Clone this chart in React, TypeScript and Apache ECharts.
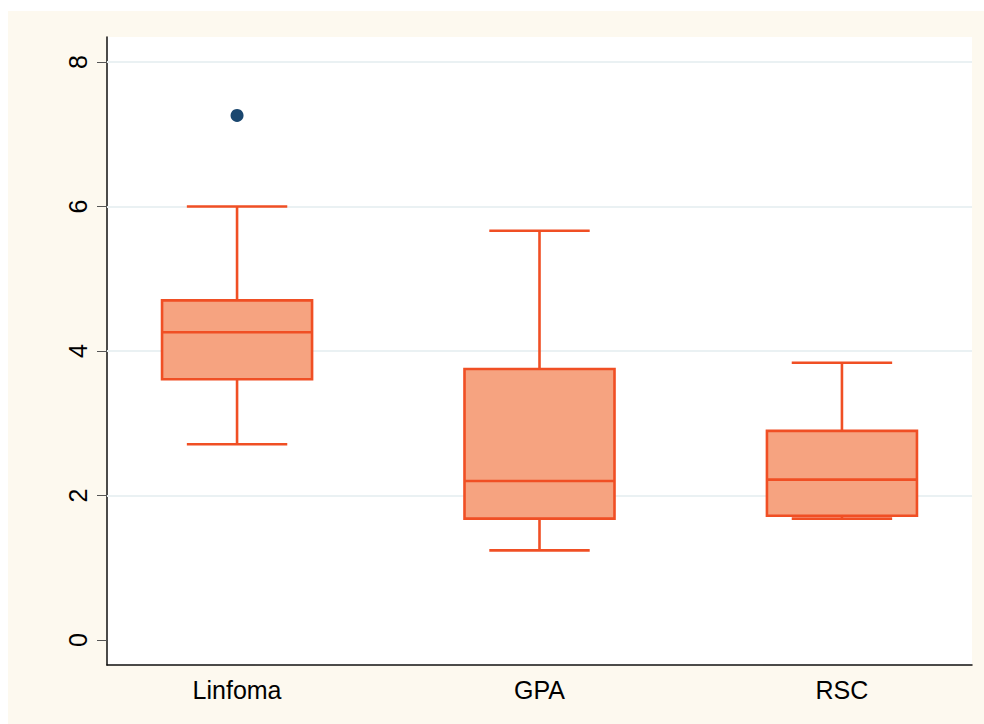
import React, { useEffect, useRef } from "react";
import * as echarts from "echarts";

// Groups along the x axis
const categories = ["Linfoma", "GPA", "RSC"];
// Box statistics per group: [lower whisker, Q1, median, Q3, upper whisker]
const boxStats = [
  [2.71, 3.61, 4.26, 4.70, 6.0],
  [1.24, 1.68, 2.2, 3.75, 5.665],
  [1.68, 1.72, 2.22, 2.895, 3.838],
];
// Outlying observations: [group index, value]
const outliers = [[0, 7.26]];
// Y axis ticks and horizontal grid lines
const yTicks = [0, 2, 4, 6, 8];
const gridLines = [2, 4, 6, 8];

const FILL = "#f6a380";
const EDGE = "#f04f24";
const FONT = "'Liberation Sans', Arial, sans-serif";

export default function App() {
  const ref = useRef<HTMLDivElement>(null);

  useEffect(() => {
    if (!ref.current) return;
    const chart = echarts.init(ref.current, null, { renderer: "svg" });

    const boxData = boxStats.map((s, i) => [i, ...s]);

    const renderBox = (params: any, api: any) => {
      const x = api.value(0);
      const lo = api.value(1);
      const q1 = api.value(2);
      const med = api.value(3);
      const q3 = api.value(4);
      const hi = api.value(5);
      const halfBox = 0.248;
      const halfCap = 0.166;
      const p = (xv: number, yv: number) => api.coord([xv, yv]);
      const lineStyle = { stroke: EDGE, lineWidth: 2.6, fill: "none" };
      const seg = (a: number[], b: number[]) => ({
        type: "line",
        shape: { x1: a[0], y1: a[1], x2: b[0], y2: b[1] },
        style: lineStyle,
      });
      const tl = p(x - halfBox, q3);
      const br = p(x + halfBox, q1);
      return {
        type: "group",
        children: [
          seg(p(x, q3), p(x, hi)),
          seg(p(x - halfCap, hi), p(x + halfCap, hi)),
          seg(p(x, lo), p(x, q1)),
          seg(p(x - halfCap, lo), p(x + halfCap, lo)),
          {
            type: "rect",
            shape: { x: tl[0], y: tl[1], width: br[0] - tl[0], height: br[1] - tl[1] },
            style: { fill: FILL, stroke: EDGE, lineWidth: 2.6 },
          },
          seg(p(x - halfBox, med), p(x + halfBox, med)),
        ],
      };
    };

    chart.setOption({
      animation: false,
      backgroundColor: "#ffffff",
      textStyle: { fontFamily: FONT },
      graphic: [
        {
          type: "rect",
          z: -10,
          silent: true,
          shape: { x: 8, y: 11, width: 976, height: 713 },
          style: { fill: "#fdf9ef" },
        },
      ],
      grid: {
        left: 107,
        right: 12,
        top: 37,
        bottom: 59,
        show: true,
        backgroundColor: "#ffffff",
        borderWidth: 0,
      },
      xAxis: {
        type: "value",
        min: -0.43,
        max: 2.43,
        splitLine: { show: false },
        axisTick: { show: false },
        axisLine: { show: true, onZero: false, lineStyle: { color: "#111", width: 1.5 } },
        axisLabel: {
          customValues: [0, 1, 2],
          formatter: (v: number) => categories[Math.round(v)] ?? "",
          color: "#000",
          fontSize: 25,
          fontFamily: FONT,
          margin: 12,
        },
      },
      yAxis: {
        type: "value",
        min: -0.346,
        max: 8.346,
        splitLine: { show: false },
        axisLine: { show: true, onZero: false, lineStyle: { color: "#111", width: 1.5 } },
        axisTick: {
          show: true,
          customValues: yTicks,
          length: 10,
          lineStyle: { color: "#555", width: 1 },
        },
        axisLabel: {
          customValues: yTicks,
          rotate: 90,
          color: "#000",
          fontSize: 25,
          fontFamily: FONT,
          margin: 17,
        },
      },
      series: [
        {
          type: "line",
          data: [],
          z: 1,
          markLine: {
            z: 1,
            silent: true,
            symbol: "none",
            label: { show: false },
            lineStyle: { color: "#eaf1f3", width: 2, type: "solid" },
            data: gridLines.map((v) => ({ yAxis: v })),
          },
        },
        {
          type: "custom",
          z: 10,
          data: boxData,
          encode: { x: 0, y: [1, 2, 3, 4, 5] },
          renderItem: renderBox,
        },
        {
          type: "scatter",
          z: 11,
          data: outliers,
          symbol: "circle",
          symbolSize: 13,
          itemStyle: { color: "#1a476f", opacity: 1 },
        },
      ],
    });

    return () => chart.dispose();
  }, []);

  return (
    <div
      ref={ref}
      style={{ position: "absolute", left: 0, top: 0, width: 984, height: 724 }}
    />
  );
}
